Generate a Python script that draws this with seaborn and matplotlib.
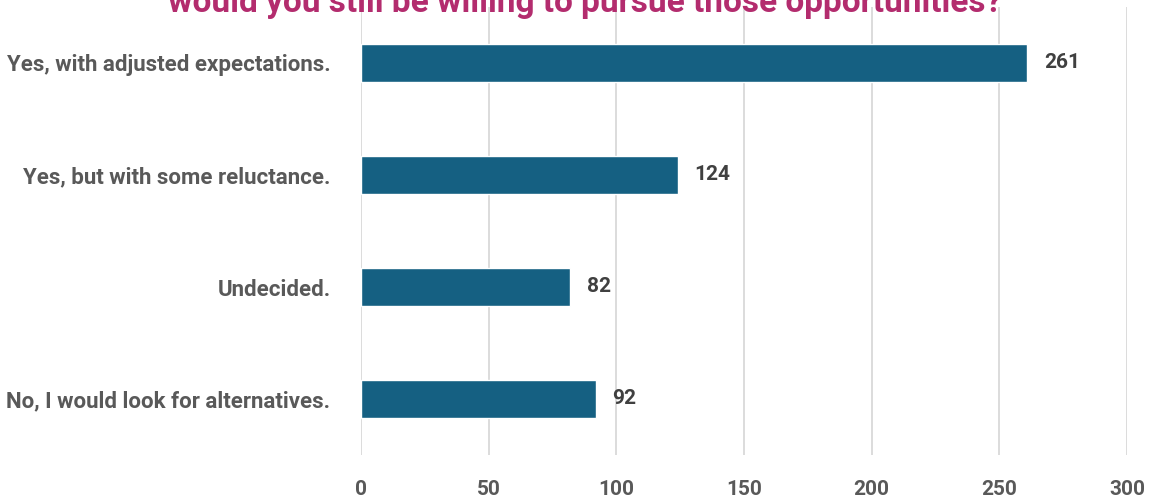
import matplotlib
matplotlib.use("Agg")
import matplotlib.pyplot as plt
import seaborn as sns
import pandas as pd

categories = [
    "Yes, with adjusted expectations.",
    "Yes, but with some reluctance.",
    "Undecided.",
    "No, I would look for alternatives.",
]
counts = [261, 124, 82, 92]
x_ticks = [0, 50, 100, 150, 200, 250, 300]
title = "would you still be willing to pursue those opportunities?"

sns.set_theme(style="white")
plt.rcParams["font.family"] = ["Roboto", "DejaVu Sans"]

df = pd.DataFrame({"answer": categories, "count": counts})

fig = plt.figure(figsize=(11.51, 4.97), dpi=100)
ax = fig.add_axes([361 / 1151, 1 - 455 / 497, (1127 - 361) / 1151, (455 - 7) / 497])

sns.barplot(data=df, x="count", y="answer", orient="h", color="#156082",
            width=0.34, saturation=1, ax=ax, zorder=3)

ax.set_xlim(0, 300)
ax.set_xticks(x_ticks)
ax.grid(axis="x", color="#d9d9d9", linewidth=1.3, zorder=0)
ax.grid(axis="y", visible=False)
for s in ax.spines.values():
    s.set_visible(False)
ax.set_xlabel("")
ax.set_ylabel("")
ax.tick_params(axis="x", length=0, pad=18, labelsize=15, labelcolor="#595959")
ax.tick_params(axis="y", length=0, pad=22, labelsize=16, labelcolor="#595959")
for lab in ax.get_xticklabels():
    lab.set_fontweight("bold")
for lab in ax.get_yticklabels():
    lab.set_fontweight("bold")

for i, v in enumerate(counts):
    ax.annotate(f"{v}", xy=(v, i), xytext=(12, 0), textcoords="offset points",
                va="center", ha="left", fontsize=15, fontweight="bold",
                color="#404040")

fig.text(585 / 1151, 1 - 12 / 497, title, ha="center", va="baseline",
         fontsize=24, fontweight="bold", color="#B32C6E")

fig.savefig("out.png", dpi=100)
